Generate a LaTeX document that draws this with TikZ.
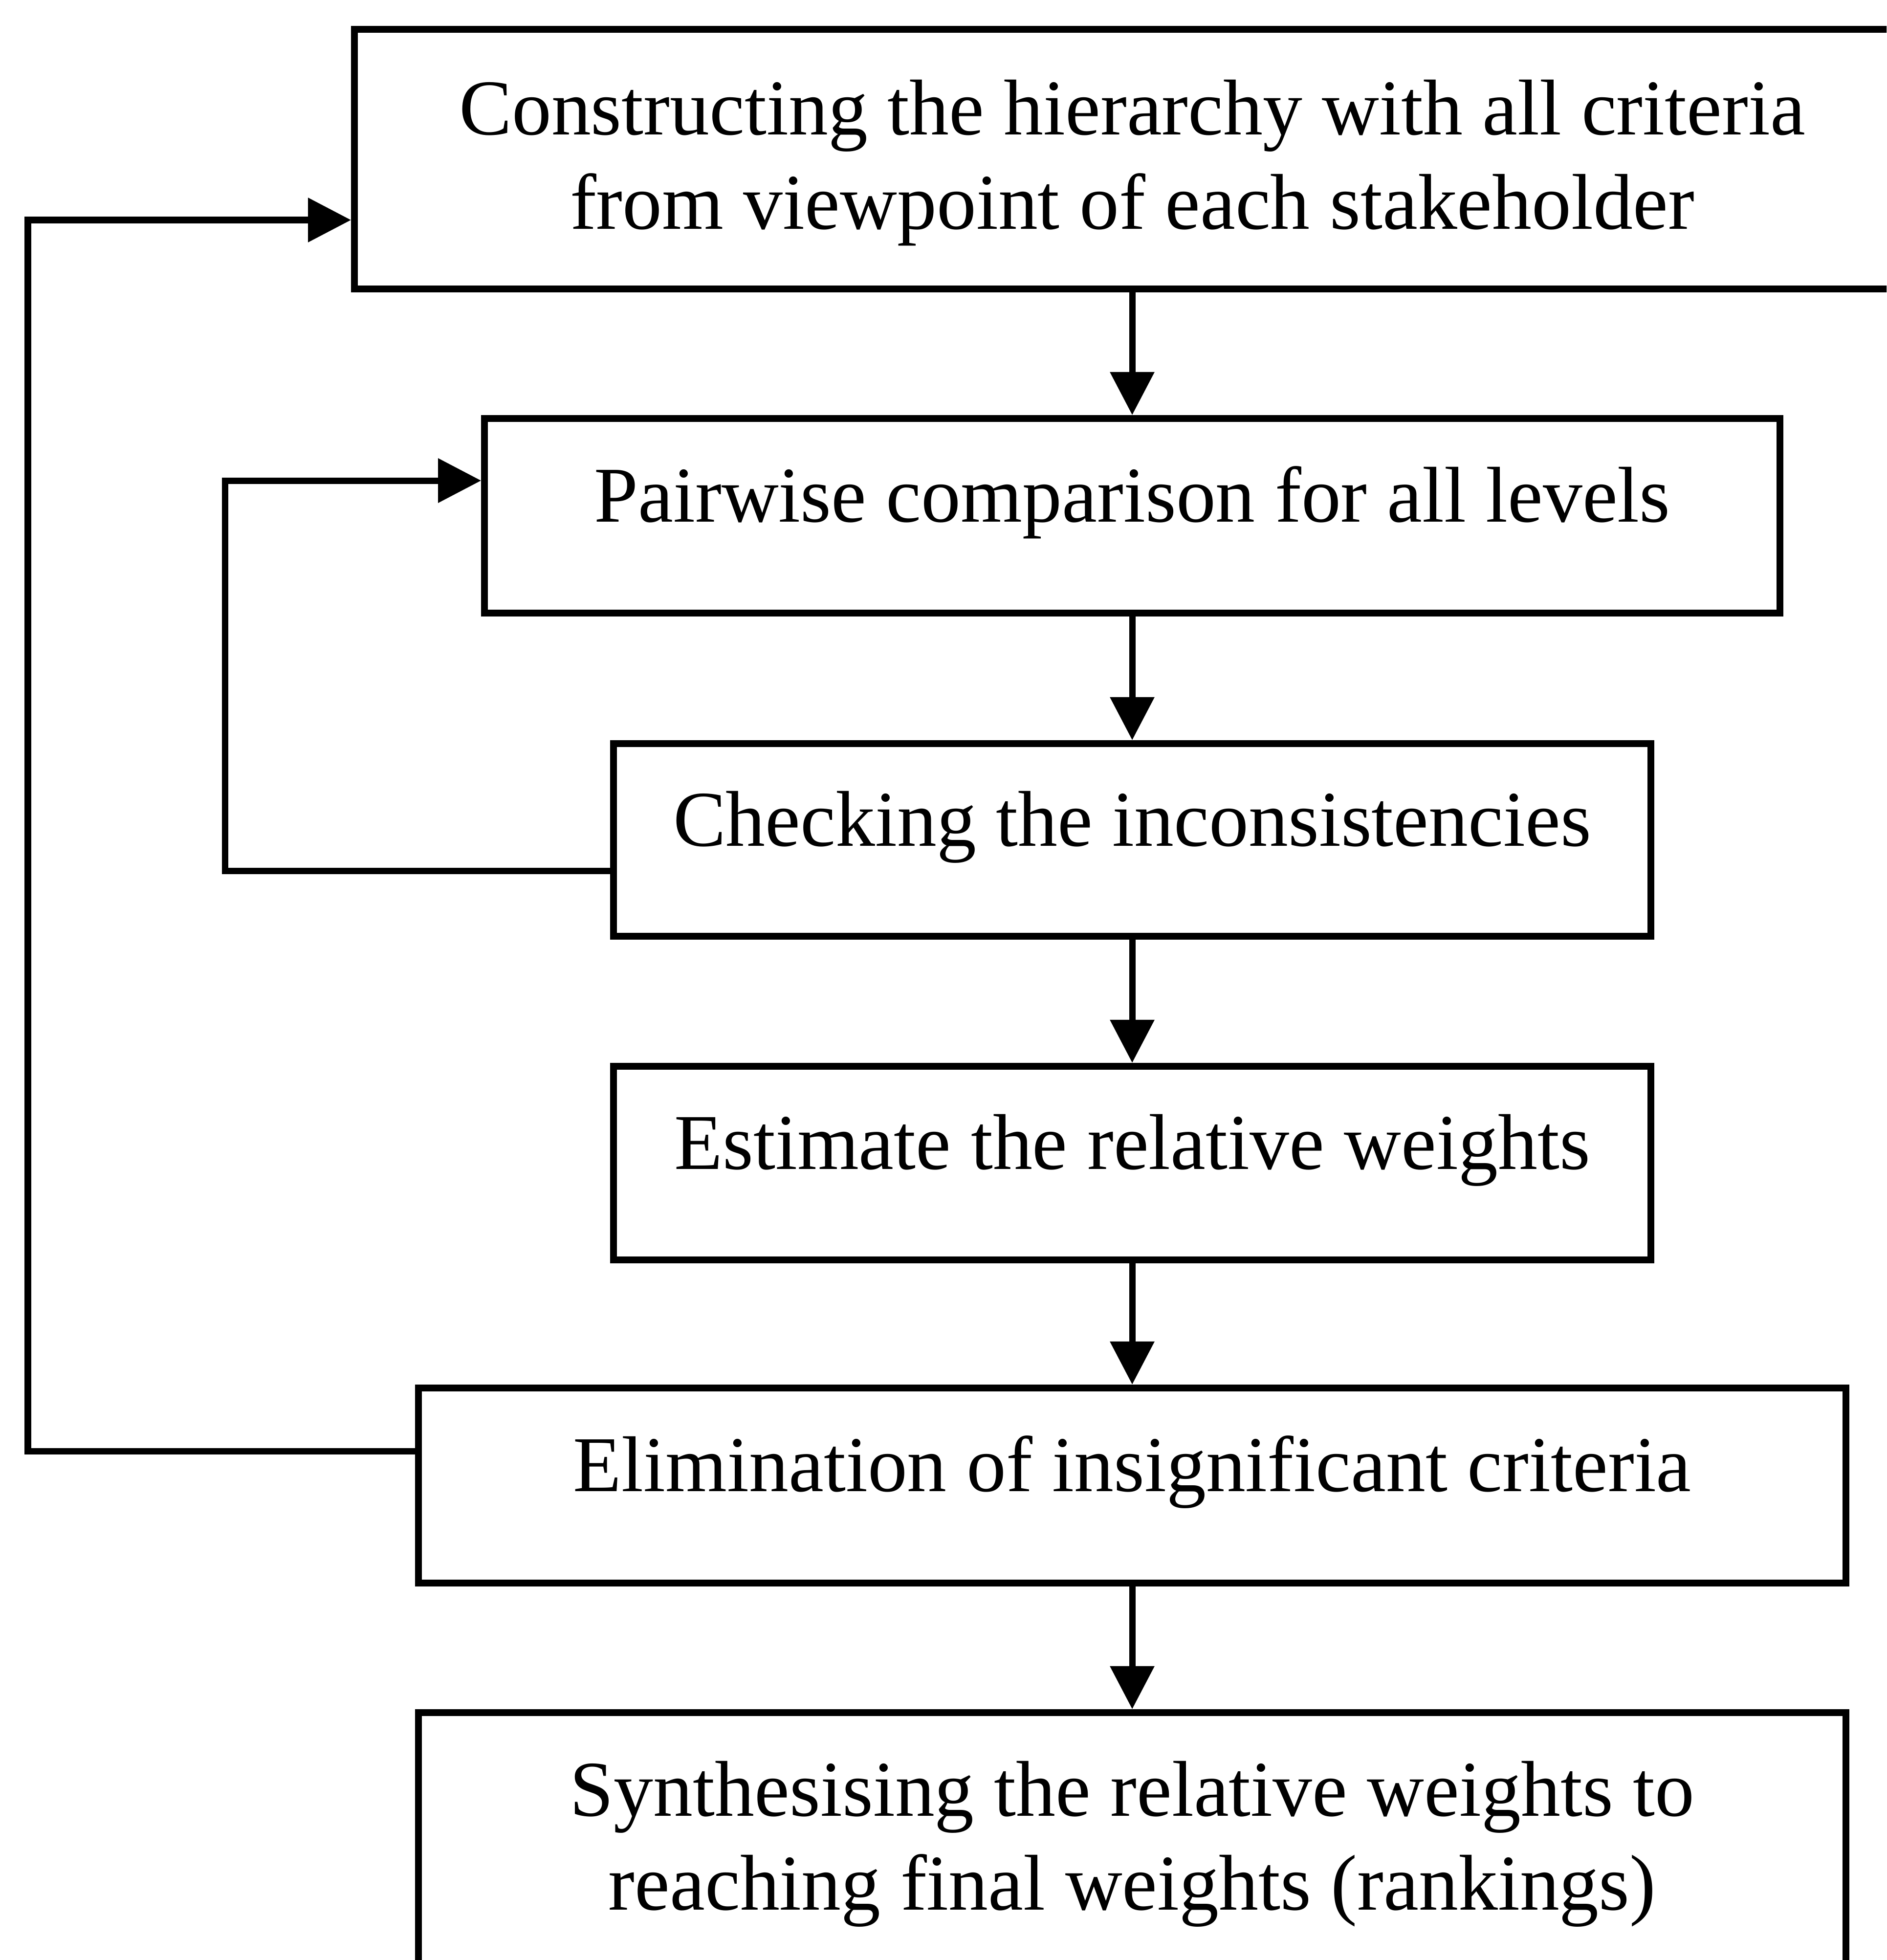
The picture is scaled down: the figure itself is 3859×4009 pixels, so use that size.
\documentclass[tikz,border=0pt]{standalone}
\usepackage{fontspec}
\setmainfont{Liberation Serif}
\usetikzlibrary{arrows.meta}
% two centred lines whose reference point is the first baseline
\newcommand\twoline[2]{\vtop{\halign{\hfil##\hfil\cr#1\cr#2\cr}}}
\begin{document}
\begin{tikzpicture}[x=0.01cm,y=-0.01cm,
  box/.style={draw, rectangle, line width=0.14cm, inner sep=0pt,
    font=\fontsize{46pt}{1.92cm}\selectfont},
  one/.style={text height=1.10cm, text depth=0.86cm},
  two/.style={text height=1.10cm, text depth=2.09cm},
  link/.style={line width=0.13cm},
  flow/.style={link, -{Triangle[length=0.88cm,width=0.88cm]}}]
\useasboundingbox (0,0) rectangle (3859,4009);
\clip (0,0) rectangle (3859,4009);

% process steps
\node[box, two, minimum width=31.80cm, minimum height=5.31cm] (b1) at (2316,325.5)
  {\twoline{Constructing the hierarchy with all criteria}{from viewpoint of each stakeholder}};
\node[box, one, minimum width=26.48cm, minimum height=3.98cm] (b2) at (2316,1055)
  {Pairwise comparison for all levels};
\node[box, one, minimum width=21.20cm, minimum height=3.94cm] (b3) at (2316,1718)
  {Checking the inconsistencies};
\node[box, one, minimum width=21.20cm, minimum height=3.96cm] (b4) at (2316,2379)
  {Estimate the relative weights};
\node[box, one, minimum width=29.18cm, minimum height=3.99cm] (b5) at (2316,3038.5)
  {Elimination of insignificant criteria};
\node[box, two, minimum width=29.18cm, minimum height=5.21cm] (b6) at (2316,3763.5)
  {\twoline{Synthesising the relative weights to}{reaching final weights (rankings)}};

% main sequence
\draw[flow] (b1.south) -- (b2.north);
\draw[flow] (b2.south) -- (b3.north);
\draw[flow] (b3.south) -- (b4.north);
\draw[flow] (b4.south) -- (b5.north);
\draw[flow] (b5.south) -- (b6.north);

% feedback loops
\draw[flow] (b3.west |- 0,1781) -| (460,983) -- (b2.west |- 0,983);
\draw[flow] (b5.west |- 0,2968) -| (57,450) -- (b1.west |- 0,450);
\end{tikzpicture}
\end{document}
